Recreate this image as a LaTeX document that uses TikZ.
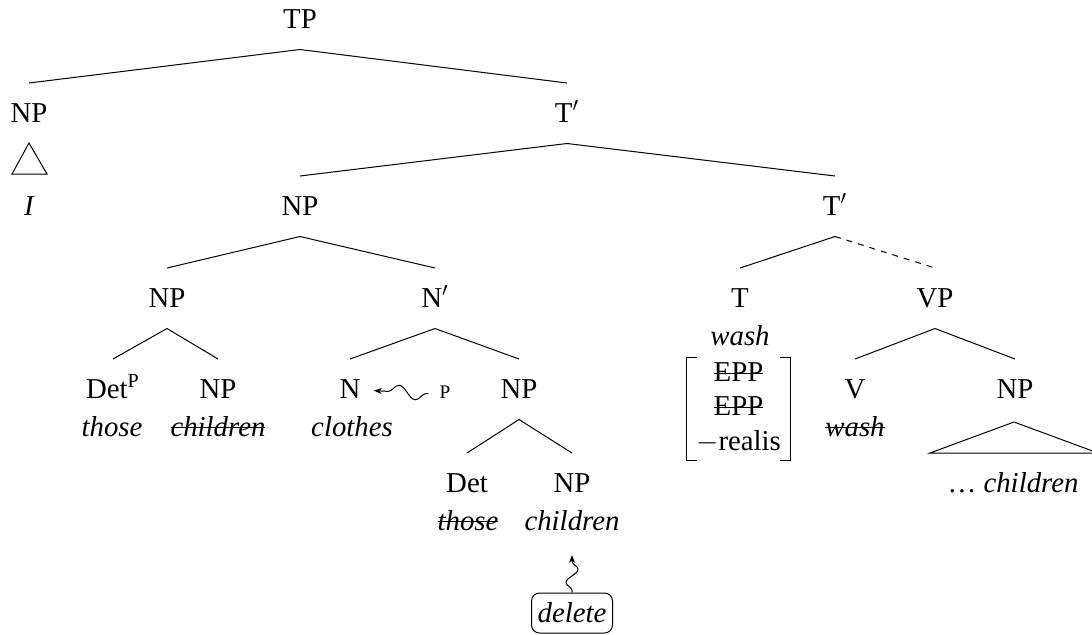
\documentclass[tikz,border=0pt]{standalone}
\usepackage{fontspec}
\setmainfont{Liberation Serif}
\usetikzlibrary{calc,arrows.meta,decorations.pathmorphing}
% struck-through text
\newsavebox\strikebox
\newcommand\strike[1]{\sbox\strikebox{#1}\rlap{\usebox\strikebox}\rule[0.27em]{\wd\strikebox}{0.6pt}}
% branch from parent (#2) to child (#3), measured from the label baselines
\newcommand\treeedge[3][]{\draw[branch,#1] ($(#2.base)+(0,-21.5)$) -- ($(#3.base)+(0,39)$);}
\begin{document}
\begin{tikzpicture}[x=0.5pt,y=0.5pt,
  font=\fontsize{14.4}{19}\selectfont,
  every node/.style={inner sep=0pt,anchor=base},
  word/.style={font=\fontsize{14.4}{19}\selectfont\itshape},
  small/.style={font=\fontsize{9.6}{11}\selectfont},
  branch/.style={line width=0.5pt},
  bracket/.style={line width=0.65pt,line cap=butt},
  featbox/.style={anchor=center,minimum width=51.5pt,minimum height=51pt},
  squig/.style={line width=0.5pt,decorate,
    decoration={snake,amplitude=#1,segment length=17pt,pre length=1pt,post length=3pt}},
  squig/.default=3.4pt,
  flag/.style={draw,line width=0.5pt,rounded corners=4pt,anchor=center,
    minimum width=40.5pt,minimum height=20pt,font=\fontsize{14.4}{19}\selectfont\itshape}]
\useasboundingbox (0,0) rectangle (1092,-634);

% row 0
\node (tp) at (300,-28) {TP};
% row 1
\node (np1) at (29,-122) {NP};
\node (tb1) at (567,-122) {T$'$};
% row 2
\node[word] (iw) at (29,-215) {I};
\node (np2) at (300,-215) {NP};
\node (tb2) at (835,-215) {T$'$};
% row 3
\node (np3) at (167,-307) {NP};
\node (nb) at (435,-307) {N$'$};
\node (t) at (740,-307) {T};
\node[word] (tw) at (740,-345) {wash};
\node (vp) at (935,-307) {VP};
\node[featbox] (feat) at (738.5,-409)
  {\renewcommand\arraystretch{0.9}\begin{tabular}{@{}c@{}}\strike{EPP}\\\strike{EPP}\\$-$realis\end{tabular}};
% row 4
\node (detp) at (113,-398) {Det\textsuperscript{P}};
\node[word] (detpw) at (112,-436) {those};
\node (np4) at (218,-398) {NP};
\node[word] (np4w) at (218,-436) {\strike{children}};
\node (n) at (350,-398) {N};
\node[word] (nw) at (352,-436) {clothes};
\node[small] (p) at (445,-398) {P};
\node (np5) at (519,-398) {NP};
\node (v) at (855,-398) {V};
\node[word] (vw) at (855,-436) {\strike{wash}};
\node (np7) at (1015,-398) {NP};
% row 5
\node (det) at (467,-492) {Det};
\node[word] (detw) at (468,-530) {\strike{those}};
\node (np6) at (572,-492) {NP};
\node[word] (np6w) at (572,-530) {children};
\node (np7w) at (1013,-492) {\ldots{} \textit{children}};
\node[flag] (del) at (572,-613) {delete};

% feature brackets
\draw[bracket] ($(feat.north west)+(10,0)$) -- (feat.north west)
  -- (feat.south west) -- ($(feat.south west)+(10,0)$);
\draw[bracket] ($(feat.north east)+(-10,0)$) -- (feat.north east)
  -- (feat.south east) -- ($(feat.south east)+(-10,0)$);

% branches
\treeedge{tp}{np1}
\treeedge{tp}{tb1}
\treeedge{tb1}{np2}
\treeedge{tb1}{tb2}
\treeedge{np2}{np3}
\treeedge{np2}{nb}
\treeedge{np3}{detp}
\treeedge{np3}{np4}
\treeedge{nb}{n}
\treeedge{nb}{np5}
\treeedge{np5}{det}
\treeedge{np5}{np6}
\treeedge{tb2}{t}
\treeedge[dash pattern=on 3pt off 3pt]{tb2}{vp}
\treeedge{vp}{v}
\treeedge{vp}{np7}

% roofs
\draw[branch] ($(np1.base)+(0,-21)$) -- ($(np1.base)+(-17,-52)$)
  -- ($(np1.base)+(18,-52)$) -- cycle;
\draw[branch] ($(np7.base)+(-1,-24)$) -- ($(np7.base)+(-85,-55)$)
  -- ($(np7.base)+(83,-55)$) -- cycle;

% squiggly arrows
\draw[squig,-{Stealth[length=4pt,width=3pt]}]
  ($(p.west)+(-11,-2)$) -- ($(n.east)+(13,-2)$);
\draw[squig=3pt,decoration={segment length=13pt},-{Stealth[length=4pt,width=3pt]}]
  (del.north) -- ($(np6w.base)+(0,-25)$);
\end{tikzpicture}
\end{document}
